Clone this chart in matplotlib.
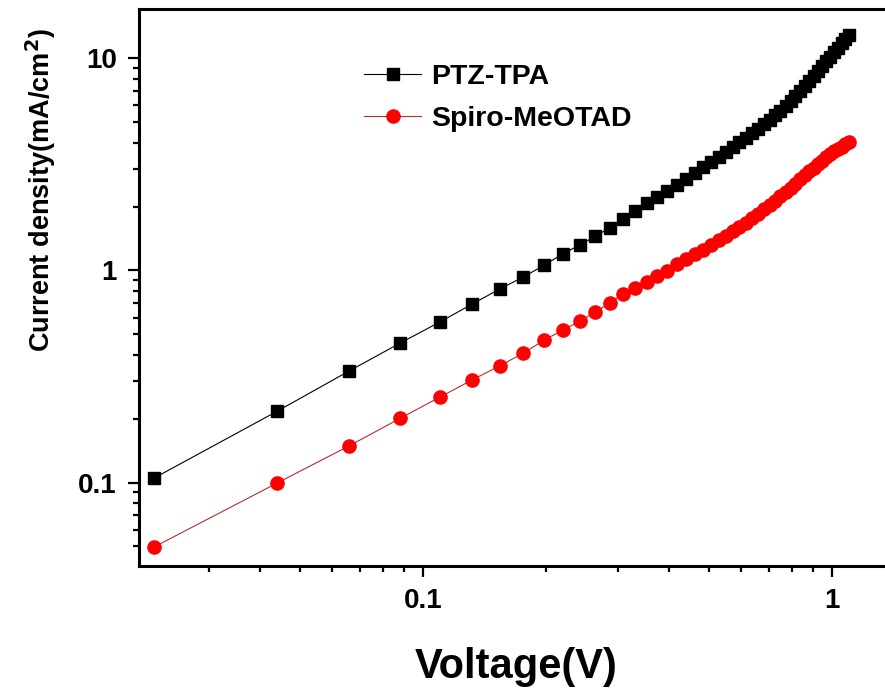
import numpy as np
import matplotlib
matplotlib.use("Agg")
import matplotlib.pyplot as plt
from matplotlib.ticker import LogLocator, NullFormatter

plt.rcParams['font.family'] = ['Liberation Sans', 'DejaVu Sans']
plt.rcParams['font.weight'] = 'bold'

# Voltage steps (0.022 V spacing, 50 points)
voltage = [0.022 * k for k in range(1, 51)]

# PTZ-TPA current density (mA/cm^2)
ptz_tpa = [0.105, 0.217, 0.336, 0.455, 0.572, 0.695, 0.818, 0.932, 1.06, 1.20,
           1.32, 1.45, 1.59, 1.75, 1.91, 2.08, 2.22, 2.37, 2.53, 2.70,
           2.88, 3.06, 3.24, 3.43, 3.62, 3.82, 4.02, 4.22, 4.43, 4.65,
           4.90, 5.15, 5.41, 5.68, 5.97, 6.32, 6.68, 7.05, 7.43, 7.83,
           8.28, 8.75, 9.22, 9.70, 10.2, 10.7, 11.2, 11.8, 12.3, 12.9]

# Spiro-MeOTAD current density (mA/cm^2)
spiro = [0.0497, 0.0995, 0.149, 0.201, 0.253, 0.305, 0.355, 0.408, 0.470, 0.524,
         0.578, 0.637, 0.703, 0.774, 0.826, 0.883, 0.942, 0.995, 1.07, 1.13,
         1.19, 1.25, 1.32, 1.39, 1.46, 1.53, 1.60, 1.68, 1.76, 1.85,
         1.94, 2.03, 2.13, 2.24, 2.35, 2.46, 2.57, 2.69, 2.81, 2.93,
         3.05, 3.17, 3.29, 3.41, 3.54, 3.64, 3.74, 3.84, 3.94, 4.04]

fig = plt.figure(figsize=(8.85, 6.92), dpi=100)
ax = fig.add_axes([139 / 885, 1 - 566 / 692, (885 - 139) / 885, (566 - 9) / 692])

ax.plot(voltage, ptz_tpa, '-', color='black', lw=0.8, marker='s', ms=8.5,
        mfc='black', mec='black', label='PTZ-TPA')
ax.plot(voltage, spiro, '-', color='#b03030', lw=0.8, marker='o', ms=9.5,
        mfc='red', mec='red', label='Spiro-MeOTAD')

ax.set_xscale('log')
ax.set_yscale('log')
ax.set_xlim(0.0202, 1.348)
ax.set_ylim(0.0404, 17.1)

ax.set_xticks([0.1, 1])
ax.set_xticklabels(['0.1', '1'])
ax.set_yticks([0.1, 1, 10])
ax.set_yticklabels(['0.1', '1', '10'])
ax.xaxis.set_minor_locator(LogLocator(base=10, subs=np.arange(2, 10)))
ax.yaxis.set_minor_locator(LogLocator(base=10, subs=np.arange(2, 10)))
ax.xaxis.set_minor_formatter(NullFormatter())
ax.yaxis.set_minor_formatter(NullFormatter())

ax.tick_params(which='major', direction='out', length=8, width=1.6,
               labelsize=20, pad=8, top=False, right=False)
ax.tick_params(which='minor', direction='out', length=4.5, width=1.6,
               top=False, right=False)
for lab in ax.get_xticklabels() + ax.get_yticklabels():
    lab.set_fontweight('bold')

for side in ['left', 'bottom', 'top']:
    ax.spines[side].set_linewidth(2.2)
ax.spines['right'].set_visible(False)

fig.text(516 / 885, 1 - 678 / 692, 'Voltage(V)', fontsize=30, fontweight='bold',
         ha='center', va='baseline')
fig.text(41 / 885, 1 - 190 / 692, 'Current density(mA/cm$^\\mathbf{2}$)', fontsize=19.5,
         fontweight='bold', rotation=90, ha='center', va='center')

leg = ax.legend(loc='upper left', bbox_to_anchor=(350 / 885, 1 - 50 / 692),
                bbox_transform=fig.transFigure, frameon=False, fontsize=20.5,
                handlelength=2.0, handletextpad=0.35, labelspacing=0.55,
                borderpad=0)
for t in leg.get_texts():
    t.set_fontweight('bold')

fig.savefig('out.png', dpi=100)
